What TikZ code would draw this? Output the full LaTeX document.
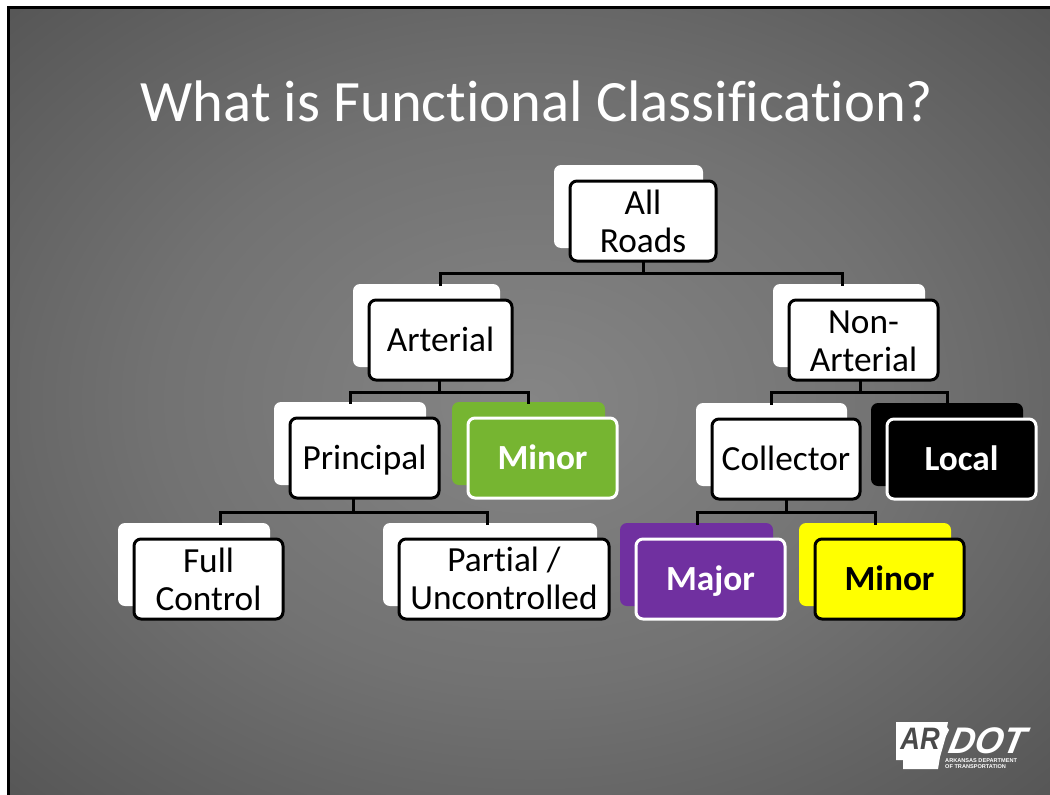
\documentclass[tikz,border=0pt]{standalone}
\usepackage{fontspec}
\setmainfont[Ligatures=NoCommon]{Carlito}
\newfontfamily\logofont{Liberation Sans}
\definecolor{bggreen}{HTML}{76B531}
\definecolor{bgpurple}{HTML}{7030A0}
\definecolor{bgyellow}{HTML}{FFFF00}
\definecolor{logodark}{HTML}{4A4A4A}
\definecolor{sa}{HTML}{858585}
\definecolor{sb}{HTML}{727272}
\definecolor{sc}{HTML}{575757}
\definecolor{sd}{HTML}{444444}
\pgfdeclareradialshading{slidebg}{\pgfpoint{0bp}{0bp}}{%
  color(0bp)=(sa);
  color(18bp)=(sb);
  color(35bp)=(sc);
  color(50bp)=(sd);
  color(100bp)=(sd)}
\newcommand{\ftstrut}{\rule[-7.5pt]{0pt}{38pt}}
\newcommand{\upstrut}[1]{\rule{0pt}{#1pt}}
\tikzset{
  rbox/.style={rectangle,rounded corners=7pt,inner sep=0pt,outer sep=0pt,align=center,text=black,
    font=\fontsize{35.3}{38}\selectfont,execute at begin node=\ftstrut,execute at end node=\ftstrut},
  link/.style={draw=black,line width=3pt,line cap=rect},
  plainf/.style={fill=white,draw=black,line width=3pt},
  boldf/.style={fill=#1,draw=white,line width=3pt,text=white,font=\fontsize{35.3}{38}\selectfont\bfseries},
  yellowf/.style={fill=bgyellow,draw=black,line width=3pt,font=\fontsize{35.3}{38}\selectfont\bfseries},
}
% name, x0,y0,x1,y1 (front), back right edge, back colour, front style, text
\newcommand{\pairbox}[9]{%
  \node[rbox,fill=#7,minimum width={(#6-#2+15)*1pt},minimum height={(#5-#3+1)*1pt}]
    (#1back) at ({(#2-15+#6)/2},{(#3-15+#5-14)/2}) {};
  \node[rbox,#8,minimum width={(#4-#2-2)*1pt},minimum height={(#5-#3-2)*1pt}]
    (#1) at ({(#2+#4)/2},{(#3+#5)/2}) {#9};
}
\begin{document}
\begin{tikzpicture}[x=1pt,y=-1pt]
\useasboundingbox (0,0) rectangle (1050,795);
\fill[white] (0,0) rectangle (1050,795);
\path[shading=slidebg] (8,7) rectangle (1050,795);
\draw[black,line width=3pt] (8,795) -- (8,7) -- (1050,7);
\node[text=white,inner sep=0pt,anchor=center,font=\fontsize{58.6}{64}\selectfont] (title) at (537,101) {What is Functional Classification?};

\pairbox{allroads}{569}{180}{717}{262}{703}{white}{plainf}{\upstrut{31.5}All\\Roads}
\pairbox{arterial}{368}{299}{513}{381}{500}{white}{plainf}{Arterial}
\pairbox{nonart}{788}{299}{939}{381}{925}{white}{plainf}{\upstrut{32.25}Non-\\Arterial}
\pairbox{principal}{289}{417}{440}{499}{426}{white}{plainf}{Principal}
\pairbox{minorg}{467}{417}{618}{499}{605}{bggreen}{boldf=bggreen}{Minor}
\pairbox{collector}{711}{418}{861}{500}{847}{white}{plainf}{Collector}
\pairbox{local}{886}{418}{1037}{500}{1023}{black}{boldf=black}{Local}
\pairbox{fullc}{133}{538}{284}{620}{270}{white}{plainf}{\upstrut{31.5}Full\\Control}
\pairbox{partial}{398}{538}{610}{620}{597}{white}{plainf}{\upstrut{31.25}Partial /\\Uncontrolled}
\pairbox{major}{635}{538}{786}{620}{773}{bgpurple}{boldf=bgpurple}{Major}
\pairbox{minory}{814}{538}{965}{620}{951}{bgyellow}{yellowf}{Minor}

% junction coordinates
\coordinate (ja) at (643,273);  \coordinate (jal) at (440,273); \coordinate (jar) at (842,273);
\coordinate (jb) at (439,392);  \coordinate (jbl) at (350,392); \coordinate (jbr) at (528,392);
\coordinate (jc) at (860,392);  \coordinate (jcl) at (771,392); \coordinate (jcr) at (947,392);
\coordinate (jd) at (353,512);  \coordinate (jdl) at (220,512); \coordinate (jdr) at (487,512);
\coordinate (je) at (786,512);  \coordinate (jel) at (697,512); \coordinate (jer) at (875,512);

\draw[link] (allroads.south -| ja) -- (ja);
\draw[link] (arterialback.north -| jal) -- (jal) -- (jar) -- (nonartback.north -| jar);
\draw[link] (arterial.south -| jb) -- (jb);
\draw[link] (principalback.north -| jbl) -- (jbl) -- (jbr) -- (minorgback.north -| jbr);
\draw[link] (nonart.south -| jc) -- (jc);
\draw[link] (collectorback.north -| jcl) -- (jcl) -- (jcr) -- (localback.north -| jcr);
\draw[link] (principal.south -| jd) -- (jd);
\draw[link] (fullcback.north -| jdl) -- (jdl) -- (jdr) -- (partialback.north -| jdr);
\draw[link] (collector.south -| je) -- (je);
\draw[link] (majorback.north -| jel) -- (jel) -- (jer) -- (minoryback.north -| jer);

% logo
\fill[white] (896,722) -- (948,722) -- (947,727) -- (949,730) -- (946,736) -- (944,743) -- (942,750)
  -- (940,757) -- (938,769) -- (903,769) -- (903,760) -- (896,760) -- cycle;
\node[inner sep=0pt,anchor=center,xscale=.88,text=logodark,font=\logofont\fontsize{31}{31}\selectfont\bfseries\itshape] (logoar) at (920,739) {AR};
\node[inner sep=0pt,anchor=center,xslant=0.2,xscale=.98,text=white,font=\logofont\fontsize{37}{37}\selectfont\bfseries\itshape] (logodot) at (988,741) {DOT};
\node[inner sep=0pt,anchor=west,text=white,font=\logofont\fontsize{5.6}{6.6}\selectfont\bfseries] (logotext1) at (945,761) {ARKANSAS DEPARTMENT};
\node[inner sep=0pt,anchor=west,text=white,font=\logofont\fontsize{5.6}{6.6}\selectfont\bfseries] (logotext2) at (945,767) {OF TRANSPORTATION};
\end{tikzpicture}
\end{document}
